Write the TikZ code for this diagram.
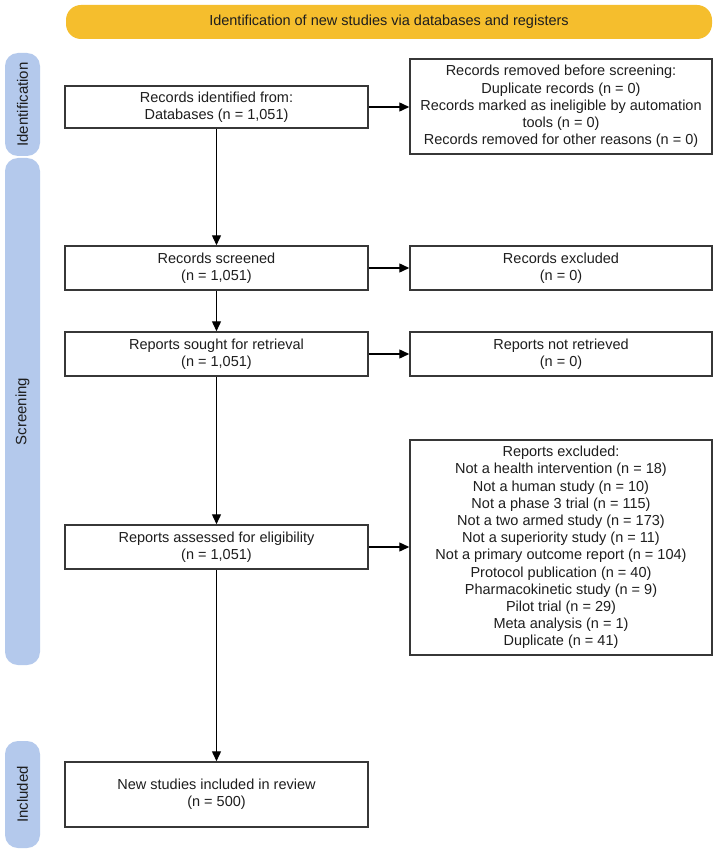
\documentclass[tikz,border=0pt]{standalone}
\usepackage{fontspec}
\setmainfont{Liberation Sans}
\usetikzlibrary{arrows.meta}
\definecolor{bannercol}{RGB}{245,190,45}
\definecolor{pillcol}{RGB}{180,201,236}
\definecolor{linecol}{RGB}{55,55,55}
\definecolor{txtcol}{RGB}{30,30,30}
\begin{document}
\begin{tikzpicture}[x=1pt,y=-1pt,
  flowbox/.style={draw=linecol, line width=1.5pt, fill=white, align=center,
    inner sep=0pt, text=txtcol, font=\fontsize{14.5}{17.2}\selectfont},
  leftbox/.style={flowbox, minimum width=303pt},
  rightbox/.style={flowbox, minimum width=302pt},
  pill/.style={fill=pillcol, rounded corners=13pt, inner sep=0pt, minimum width=35pt},
  pilltext/.style={rotate=90, text=txtcol, font=\fontsize{15}{17}\selectfont},
  banner/.style={fill=bannercol, rounded corners=15pt, inner sep=0pt, text=txtcol,
    minimum width=646pt, minimum height=34pt, font=\fontsize{14.5}{17}\selectfont},
  arr/.style={line width=1.4pt, draw=black, -{Triangle[length=10pt,width=9pt]}}
]
\useasboundingbox (0,0) rectangle (716,853);
\fill[white] (0,0) rectangle (716,853);

\node[banner] (ban) at (389,22) {Identification of new studies via databases and registers};

\node[pill, minimum height=103pt] (pid) at (22.5,104.5) {};
\node[pilltext] (pidt) at (pid.center) {Identification};
\node[pill, minimum height=507pt] (psc) at (22.5,411.5) {};
\node[pilltext] (psct) at (psc.center) {Screening};
\node[pill, minimum height=107pt] (pin) at (22.5,794.5) {};
\node[pilltext] (pint) at (pin.center) {Included};

\node[leftbox, minimum height=42pt] (ident) at (216.5,107) {Records identified from:\\Databases (n = 1,051)};
\node[rightbox, minimum height=95pt] (removed) at (561,106.5) {Records removed before screening:\\Duplicate records (n = 0)\\Records marked as ineligible by automation\\tools (n = 0)\\Records removed for other reasons (n = 0)};

\node[leftbox, minimum height=44pt] (screened) at (216.5,268) {Records screened\\(n = 1,051)};
\node[rightbox, minimum height=44pt] (excluded) at (561,268) {Records excluded\\(n = 0)};

\node[leftbox, minimum height=44pt] (sought) at (216.5,354) {Reports sought for retrieval\\(n = 1,051)};
\node[rightbox, minimum height=44pt] (notret) at (561,354) {Reports not retrieved\\(n = 0)};

\node[leftbox, minimum height=44pt] (assessed) at (216.5,547) {Reports assessed for eligibility\\(n = 1,051)};
\node[rightbox, minimum height=215pt] (repexcl) at (561,547.5) {Reports excluded:\\Not a health intervention (n = 18)\\Not a human study (n = 10)\\Not a phase 3 trial (n = 115)\\Not a two armed study (n = 173)\\Not a superiority study (n = 11)\\Not a primary outcome report (n = 104)\\Protocol publication (n = 40)\\Pharmacokinetic study (n = 9)\\Pilot trial (n = 29)\\Meta analysis (n = 1)\\Duplicate (n = 41)};

\node[leftbox, minimum height=65pt] (newst) at (216.5,794.5) {New studies included in review\\(n = 500)};

\draw[arr] (ident) -- (screened);
\draw[arr] (screened) -- (sought);
\draw[arr] (sought) -- (assessed);
\draw[arr] (assessed) -- (newst);
\draw[arr] (ident.east) -- (ident.east -| removed.west);
\draw[arr] (screened) -- (excluded);
\draw[arr] (sought) -- (notret);
\draw[arr] (assessed) -- (repexcl.west |- assessed.east);
\end{tikzpicture}
\end{document}
